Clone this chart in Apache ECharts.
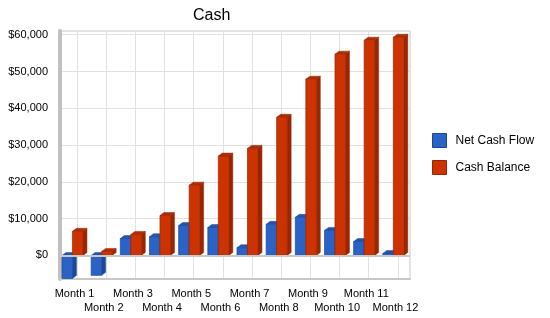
<!DOCTYPE html>
<html>
<head>
<meta charset="utf-8">
<script src="https://cdn.jsdelivr.net/npm/echarts@6/dist/echarts.min.js"></script>
<style>
  html, body { margin: 0; padding: 0; background: #fff; }
  #chart { width: 550px; height: 318px; }
</style>
</head>
<body>
<div id="chart"></div>
<script>
// 数据
const months = ['Month 1', 'Month 2', 'Month 3', 'Month 4', 'Month 5', 'Month 6',
    'Month 7', 'Month 8', 'Month 9', 'Month 10', 'Month 11', 'Month 12'];
const netCashFlow = [-6250, -5400, 4600, 5100, 8150, 7600, 2100, 8450, 10350, 6800, 3800, 550];
const cashBalance = [6550, 1100, 5700, 10850, 19100, 27000, 29100, 37550, 47900, 54700, 58500, 59300];
const yTicks = [0, 10000, 20000, 30000, 40000, 50000, 60000];

const FONT = 'Liberation Sans, Arial, sans-serif';
const DX = 4, DY = 3;

function money(v) {
    return '$' + String(v).replace(/\B(?=(\d{3})+(?!\d))/g, ',');
}

// 三维柱子
function bar3d(offset, front, side, top) {
    return function (params, api) {
        const idx = api.value(0);
        const p0 = api.coord([idx, 0]);
        const p1 = api.coord([idx, api.value(1)]);
        const x0 = p0[0] + offset;
        const x1 = x0 + 10.5;
        const yt = Math.min(p0[1], p1[1]);
        const yb = Math.max(p0[1], p1[1]);
        return {
            type: 'group',
            children: [
                { type: 'polygon', shape: { points: [[x1, yt], [x1 + DX, yt - DY], [x1 + DX, yb - DY], [x1, yb]] },
                  style: { fill: side, stroke: side, lineWidth: 0.5 } },
                { type: 'polygon', shape: { points: [[x0, yt], [x0 + DX, yt - DY], [x1 + DX, yt - DY], [x1, yt]] },
                  style: { fill: top, stroke: side, lineWidth: 0.5 } },
                { type: 'rect', shape: { x: x0, y: yt, width: x1 - x0, height: yb - yt },
                  style: { fill: front, stroke: side, lineWidth: 0.7 } }
            ]
        };
    };
}

// 竖向网格线（柱组中心，略偏后墙）
const gridX = months.map((m, i) => i + 0.08);

const chart = echarts.init(document.getElementById('chart'));
chart.setOption({
    animation: false,
    title: {
        text: 'Cash', left: 188, top: 3,
        textStyle: { fontFamily: FONT, fontSize: 16, fontWeight: 'normal', color: '#000' }
    },
    legend: {
        orient: 'vertical', left: 432, top: 133, padding: 0,
        itemWidth: 14, itemHeight: 14, itemGap: 12,
        textStyle: { fontFamily: FONT, fontSize: 12, color: '#000', padding: [0, 0, 0, 4] },
        data: [
            { name: 'Net Cash Flow', icon: 'rect', itemStyle: { color: '#2a62c5', borderColor: '#1c4896', borderWidth: 1 } },
            { name: 'Cash Balance', icon: 'rect', itemStyle: { color: '#cc3300', borderColor: '#992600', borderWidth: 1 } }
        ]
    },
    grid: { left: 60, right: 140, top: 31, bottom: 39, show: true, borderColor: '#c8c8c8', borderWidth: 1 },
    xAxis: [
        {
            type: 'category', data: months,
            axisLine: { show: true, onZero: false, lineStyle: { color: '#c8c8c8', width: 2 } },
            axisTick: { show: false },
            splitLine: { show: false },
            axisLabel: {
                interval: 0, fontFamily: FONT, fontSize: 11, color: '#000', margin: 8, lineHeight: 14,
                formatter: (v, i) => (i % 2 ? '\n' + v : v)
            }
        },
        {
            type: 'value', min: -0.5, max: 11.5, position: 'top',
            axisLine: { show: false, onZero: false },
            axisTick: { show: false, customValues: gridX },
            axisLabel: { show: false, customValues: gridX },
            splitLine: { show: true, lineStyle: { color: '#e0e0e0' } }
        }
    ],
    yAxis: {
        type: 'value', min: -6400, max: 61000,
        axisLine: { show: true, onZero: false, lineStyle: { color: '#c0c0c0', width: 4 } },
        axisTick: { show: false, customValues: yTicks },
        splitLine: { show: true, lineStyle: { color: '#e0e0e0' } },
        axisLabel: {
            customValues: yTicks, fontFamily: FONT, fontSize: 11, color: '#000', margin: 12,
            formatter: money
        }
    },
    series: [
        {
            name: 'Net Cash Flow', type: 'custom',
            renderItem: bar3d(-12.6, '#2a62c5', '#1c4896', '#2456b0'),
            encode: { x: 0, y: 1 },
            data: netCashFlow.map((v, i) => [i, v]),
            markLine: {
                silent: true, symbol: 'none', label: { show: false },
                lineStyle: { color: '#c8c8c8', width: 2, type: 'solid' },
                data: [{ yAxis: 0 }]
            }
        },
        {
            name: 'Cash Balance', type: 'custom',
            renderItem: bar3d(-2.1, '#cc3300', '#992600', '#b32d00'),
            encode: { x: 0, y: 1 },
            data: cashBalance.map((v, i) => [i, v])
        }
    ]
});
</script>
</body>
</html>
